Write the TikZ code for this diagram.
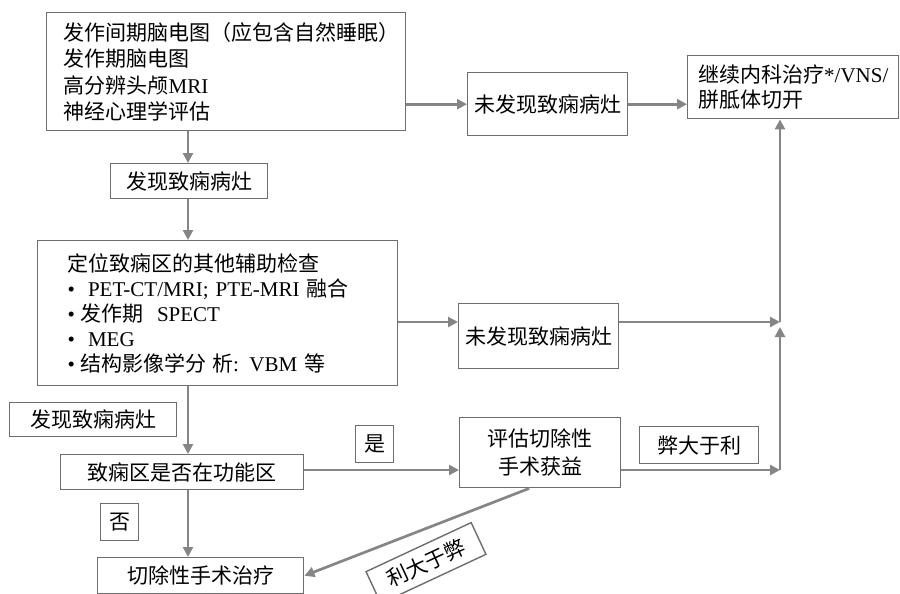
\documentclass[tikz,border=0pt]{standalone}
\usepackage{fontspec}
\setmainfont{Liberation Serif}
\newfontfamily\cjk{Noto Sans CJK SC}
\usetikzlibrary{arrows.meta}
\definecolor{boxc}{HTML}{6E6E6E}
\definecolor{arrc}{HTML}{858585}
\tikzset{
 bx/.style={draw=boxc, line width=1.4pt, inner sep=0pt, anchor=north west, font=\fontsize{21}{26.5}\selectfont},
 arr/.style={draw=arrc, line width=2.7pt, -{Triangle[length=10pt,width=10pt]}},
}
\begin{document}
\begin{tikzpicture}[x=1pt,y=-1pt]
\useasboundingbox (0,0) rectangle (900,594);
% main boxes
\node[bx, minimum width=359pt, minimum height=118pt, text width=325pt, align=left] (n1) at (46,12)
 {{\cjk 发作间期脑电图（应包含自然睡眠）}\\{\cjk 发作期脑电图}\\{\cjk 高分辨头颅}MRI\\{\cjk 神经心理学评估}};
\node[bx, minimum width=160pt, minimum height=63pt] (n2) at (467,72) {\cjk 未发现致痫病灶};
\node[bx, minimum width=211pt, minimum height=63pt, text width=190pt, align=left, font=\fontsize{21}{25.5}\selectfont] (n3) at (687,55)
 {{\cjk 继续内科治疗}*/VNS/\\{\cjk 胼胝体切开}};
\node[bx, minimum width=157pt, minimum height=35pt] (l1) at (110,163) {\cjk 发现致痫病灶};
\node[bx, minimum width=360pt, minimum height=145pt, text width=300pt, align=left, font=\fontsize{21}{25}\selectfont] (n4) at (37,240)
 {{\cjk 定位致痫区的其他辅助检查}\\
  •\hspace{13pt}PET-CT/MRI; PTE-MRI {\cjk 融合}\\
  •\hspace{5pt}{\cjk 发作期}\hspace{14pt}SPECT\\
  •\hspace{13pt}MEG\\
  •\hspace{5pt}{\cjk 结构影像学分\hspace{6pt}析}: VBM {\cjk 等}};
\node[bx, minimum width=160pt, minimum height=65pt] (n5) at (458,303) {\cjk 未发现致痫病灶};
\node[bx, minimum width=167pt, minimum height=34pt] (l2) at (9,402) {\cjk 发现致痫病灶};
\node[bx, minimum width=243pt, minimum height=35pt] (n6) at (60,454) {\cjk 致痫区是否在功能区};
\node[bx, minimum width=38pt, minimum height=37pt] (l3) at (355,425) {\cjk 是};
\node[bx, minimum width=161pt, minimum height=70pt, align=center, font=\fontsize{21}{28}\selectfont] (n7) at (459,417) {{\cjk 评估切除性}\\{\cjk 手术获益}};
\node[bx, minimum width=119pt, minimum height=37pt] (l4) at (639,426) {\cjk 弊大于利};
\node[bx, minimum width=38pt, minimum height=37pt] (l5) at (100,503) {\cjk 否};
\node[bx, minimum width=206pt, minimum height=36pt] (n8) at (97,557) {\cjk 切除性手术治疗};
\node[bx, anchor=center, rotate=25, minimum width=116pt, minimum height=35pt] (l6) at (426,563) {\cjk 利大于弊};
% coordinates
\coordinate (ax) at (188,0);
\coordinate (j1) at (780,322);
\coordinate (j2) at (780,470);
% connectors
\draw[arr] (n1.east |- n2.west) -- (n2.west);
\draw[arr] (n2.east) -- (n3.west |- n2.east);
\draw[arr] (n1.south -| ax) -- (l1.north -| ax);
\draw[arr] (l1.south -| ax) -- (n4.north -| ax);
\draw[arr] (n4.east |- j1) -- (n5.west |- j1);
\draw[arr] (n5.east |- j1) -- (j1);
\draw[arr] (n4.south -| ax) -- (n6.north -| ax);
\draw[arr] (n6.east |- j2) -- (n7.west |- j2);
\draw[arr] (n7.east |- j2) -- (j2);
\draw[arr] (j2) -- ([yshift=-5pt]j1);
\draw[arr] (j1) -- (j1 |- n3.south);
\draw[arr] (n6.south -| ax) -- (n8.north -| ax);
\draw[arr] ([xshift=-11pt]n7.south) -- (n8.east);
\end{tikzpicture}
\end{document}
